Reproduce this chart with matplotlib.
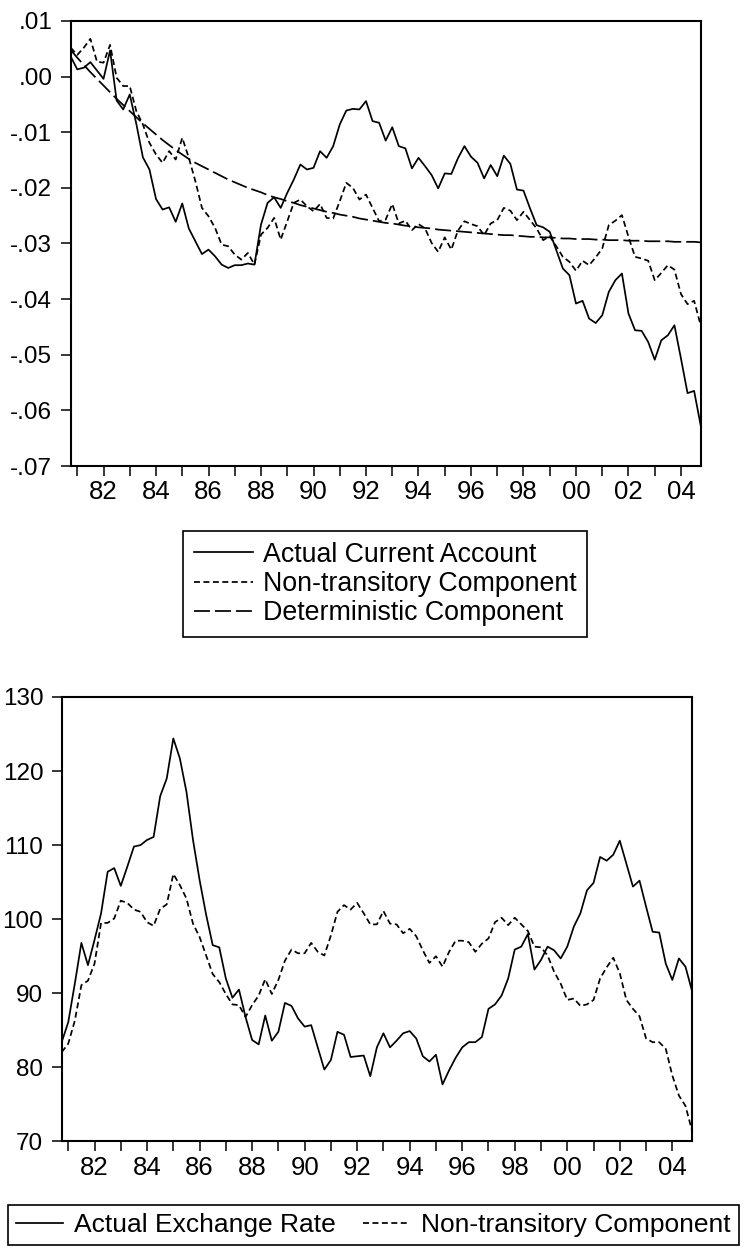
import matplotlib
matplotlib.use("Agg")
import matplotlib.pyplot as plt
import numpy as np
import pandas as pd

# ---------------- data (quarterly, 1980Q4 - 2004Q4) ----------------
start_q = "1980Q4"
end_q = "2004Q4"

ca_actual = [0.0036, 0.0013, 0.0016, 0.0026, 0.0011, -0.0004, 0.0047, -0.0043, -0.0059, -0.0032,
             -0.0085, -0.0145, -0.0167, -0.0220, -0.0239, -0.0235, -0.0261, -0.0228, -0.0273, -0.0296,
             -0.0319, -0.0311, -0.0323, -0.0338, -0.0344, -0.0339, -0.0339, -0.0336, -0.0338, -0.0266,
             -0.0227, -0.0217, -0.0236, -0.0209, -0.0185, -0.0158, -0.0167, -0.0164, -0.0134, -0.0146,
             -0.0125, -0.0086, -0.0061, -0.0058, -0.0059, -0.0044, -0.0080, -0.0083, -0.0115, -0.0091,
             -0.0125, -0.0129, -0.0165, -0.0146, -0.0161, -0.0177, -0.0201, -0.0174, -0.0175, -0.0147,
             -0.0125, -0.0144, -0.0155, -0.0183, -0.0159, -0.0179, -0.0142, -0.0157, -0.0203, -0.0205,
             -0.0237, -0.0267, -0.0271, -0.0279, -0.0312, -0.0345, -0.0357, -0.0408, -0.0403, -0.0435,
             -0.0443, -0.0429, -0.0387, -0.0366, -0.0354, -0.0426, -0.0456, -0.0457, -0.0477, -0.0509,
             -0.0474, -0.0465, -0.0447, -0.0507, -0.0569, -0.0565, -0.0627]

ca_nontransitory = [0.0052, 0.0039, 0.0052, 0.0068, 0.0027, 0.0025, 0.0057, -0.0002, -0.0017, -0.0017,
                    -0.0062, -0.0086, -0.0119, -0.0140, -0.0155, -0.0134, -0.0149, -0.0110, -0.0146, -0.0188,
                    -0.0236, -0.0251, -0.0272, -0.0302, -0.0305, -0.0320, -0.0329, -0.0317, -0.0338, -0.0284,
                    -0.0272, -0.0254, -0.0293, -0.0260, -0.0227, -0.0221, -0.0233, -0.0242, -0.0229, -0.0254,
                    -0.0255, -0.0224, -0.0191, -0.0200, -0.0221, -0.0212, -0.0236, -0.0260, -0.0257, -0.0229,
                    -0.0264, -0.0259, -0.0276, -0.0265, -0.0273, -0.0299, -0.0315, -0.0289, -0.0311, -0.0277,
                    -0.0260, -0.0265, -0.0269, -0.0285, -0.0264, -0.0258, -0.0236, -0.0241, -0.0258, -0.0243,
                    -0.0258, -0.0273, -0.0294, -0.0287, -0.0305, -0.0324, -0.0333, -0.0349, -0.0331, -0.0339,
                    -0.0325, -0.0309, -0.0267, -0.0259, -0.0249, -0.0288, -0.0324, -0.0327, -0.0331, -0.0366,
                    -0.0353, -0.0339, -0.0347, -0.0391, -0.0409, -0.0403, -0.0447]

ca_deterministic = [0.0048, 0.0034, 0.0021, 0.0008, -0.0004, -0.0016, -0.0028, -0.0040, -0.0051, -0.0062,
                    -0.0073, -0.0084, -0.0094, -0.0104, -0.0114, -0.0123, -0.0132, -0.0140, -0.0148, -0.0155,
                    -0.0161, -0.0167, -0.0173, -0.0179, -0.0185, -0.0190, -0.0195, -0.0200, -0.0204, -0.0208,
                    -0.0213, -0.0217, -0.0220, -0.0224, -0.0227, -0.0231, -0.0234, -0.0237, -0.0240, -0.0243,
                    -0.0245, -0.0248, -0.0250, -0.0252, -0.0255, -0.0257, -0.0259, -0.0261, -0.0263, -0.0264,
                    -0.0266, -0.0268, -0.0269, -0.0271, -0.0272, -0.0273, -0.0275, -0.0276, -0.0277, -0.0278,
                    -0.0279, -0.0280, -0.0281, -0.0282, -0.0283, -0.0284, -0.0285, -0.0285, -0.0286, -0.0287,
                    -0.0288, -0.0288, -0.0289, -0.0289, -0.0290, -0.0291, -0.0291, -0.0292, -0.0292, -0.0292,
                    -0.0293, -0.0293, -0.0294, -0.0294, -0.0294, -0.0295, -0.0295, -0.0295, -0.0296, -0.0296,
                    -0.0296, -0.0296, -0.0297, -0.0297, -0.0297, -0.0297, -0.0298]

er_actual = [83.4, 86.1, 91.3, 96.8, 93.8, 97.2, 100.8, 106.4, 106.9, 104.5,
             107.1, 109.8, 110.0, 110.7, 111.1, 116.6, 119.0, 124.4, 121.7, 117.2,
             110.7, 105.3, 100.6, 96.5, 96.2, 92.0, 89.4, 90.5, 86.8, 83.7,
             83.1, 87.0, 83.6, 84.8, 88.7, 88.3, 86.6, 85.5, 85.7, 82.7,
             79.7, 81.0, 84.8, 84.4, 81.4, 81.5, 81.6, 78.8, 82.7, 84.6,
             82.7, 83.6, 84.6, 84.9, 83.9, 81.5, 80.8, 81.7, 77.7, 79.6,
             81.3, 82.7, 83.4, 83.4, 84.1, 87.9, 88.5, 89.7, 92.0, 95.9,
             96.3, 98.0, 93.2, 94.5, 96.3, 95.8, 94.7, 96.3, 99.0, 100.8,
             103.9, 104.9, 108.4, 107.9, 108.7, 110.6, 107.5, 104.4, 105.2, 101.7,
             98.3, 98.2, 94.0, 91.8, 94.7, 93.6, 90.3]

er_nontransitory = [82.05, 83.2, 86.3, 91.1, 91.7, 94.0, 99.5, 99.5, 100.1, 102.5,
                    102.2, 101.3, 101.0, 99.6, 99.1, 101.4, 102.0, 106.1, 104.6, 102.8,
                    99.4, 97.6, 95.1, 92.6, 91.5, 89.9, 88.5, 88.4, 86.8, 88.4,
                    89.7, 91.9, 89.9, 91.8, 94.4, 95.9, 95.4, 95.4, 96.8, 95.6,
                    95.1, 97.8, 101.0, 101.9, 101.3, 102.2, 100.8, 99.3, 99.3, 101.1,
                    99.4, 99.3, 98.1, 98.7, 97.7, 95.8, 94.1, 95.0, 93.6, 95.6,
                    97.1, 97.1, 96.9, 95.6, 96.7, 97.4, 99.6, 100.2, 99.2, 100.2,
                    99.3, 98.4, 96.3, 96.2, 95.1, 92.9, 91.3, 89.1, 89.3, 88.3,
                    88.5, 89.1, 92.0, 93.5, 94.8, 92.7, 89.1, 87.9, 86.9, 83.9,
                    83.4, 83.4, 82.5, 78.9, 76.2, 74.8, 71.45]

year_ticks = list(range(1981, 2005))
year_labels = [("%02d" % (y % 100)) if y % 2 == 0 else "" for y in year_ticks]

ca_yticks = [0.01, 0.00, -0.01, -0.02, -0.03, -0.04, -0.05, -0.06, -0.07]
ca_ylabels = [".01", ".00", "-.01", "-.02", "-.03", "-.04", "-.05", "-.06", "-.07"]
er_yticks = [70, 80, 90, 100, 110, 120, 130]
er_ylabels = ["70", "80", "90", "100", "110", "120", "130"]

labels_top = ["Actual Current Account", "Non-transitory Component", "Deterministic Component"]
labels_bottom = ["Actual Exchange Rate", "Non-transitory Component"]

# ---------------- time index ----------------
periods = pd.period_range(start_q, end_q, freq="Q")
t = np.array([p.year + (p.quarter - 1) / 4.0 for p in periods])

# ---------------- styling ----------------
plt.rcParams["font.family"] = ["Liberation Sans", "DejaVu Sans"]
plt.rcParams["lines.scale_dashes"] = False

SOLID = "-"
SHORT = (0, (4.3, 2.5))
LONG = (0, (11.5, 3.6))
LW = 1.25
YTICKFS = 17.5
XTICKFS = 18.5
LEGFS = 19.3
LEGFS2 = 19

fig = plt.figure(figsize=(7.45, 12.49), dpi=100)
ax1 = fig.add_axes([0.0949, 0.6269, 0.8456, 0.3563])
ax2 = fig.add_axes([0.0828, 0.0861, 0.8461, 0.3559])


def style(ax, yticks, ylabels, ylim):
    ax.set_xlim(t[0], t[-1])
    ax.set_ylim(*ylim)
    ax.set_xticks(year_ticks)
    ax.set_xticklabels(year_labels)
    ax.set_yticks(yticks)
    ax.set_yticklabels(ylabels)
    ax.tick_params(axis="both", direction="out", length=7.2, width=1.1,
                   top=False, right=False, colors="black")
    ax.tick_params(axis="y", pad=6, labelsize=YTICKFS)
    ax.tick_params(axis="x", pad=3, labelsize=XTICKFS)
    for s in ax.spines.values():
        s.set_linewidth(1.5)
        s.set_color("black")


l1, = ax1.plot(t, ca_actual, color="black", lw=LW, ls=SOLID)
l2, = ax1.plot(t, ca_nontransitory, color="black", lw=LW, ls=SHORT)
l3, = ax1.plot(t, ca_deterministic, color="black", lw=LW, ls=LONG)
style(ax1, ca_yticks, ca_ylabels, (-0.07, 0.01))

m1, = ax2.plot(t, er_actual, color="black", lw=LW, ls=SOLID)
m2, = ax2.plot(t, er_nontransitory, color="black", lw=LW, ls=SHORT)
style(ax2, er_yticks, er_ylabels, (70, 130))

leg1 = fig.legend([l1, l2, l3], labels_top, loc="upper left",
                  bbox_to_anchor=(183 / 745, 1 - 531 / 1249), borderaxespad=0,
                  fontsize=LEGFS, frameon=True, fancybox=False, edgecolor="black",
                  framealpha=1, handlelength=2.2, handletextpad=0.38,
                  labelspacing=0.12, borderpad=0.4)
leg1.get_frame().set_linewidth(1.2)

leg2 = fig.legend([m1, m2], labels_bottom, loc="upper left", ncol=2,
                  bbox_to_anchor=(8 / 745, 1 - 1205 / 1249), borderaxespad=0,
                  fontsize=LEGFS2, frameon=True, fancybox=False, edgecolor="black",
                  framealpha=1, handlelength=1.8, handletextpad=0.42,
                  columnspacing=1.0, borderpad=0.3)
leg2.get_frame().set_linewidth(1.2)

fig.savefig("out.png", dpi=100, facecolor="white")
